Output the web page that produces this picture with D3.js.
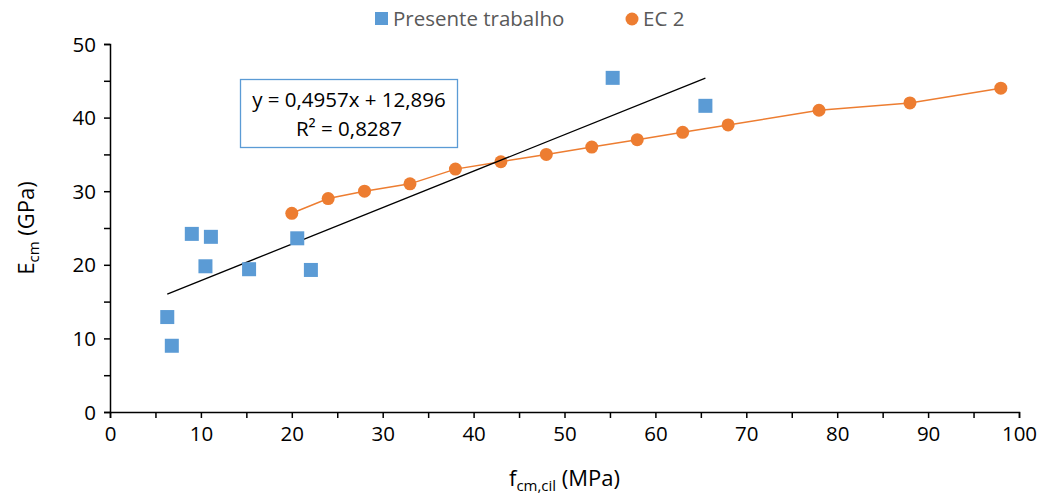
<!DOCTYPE html>
<html>
<head>
<meta charset="utf-8">
<script src="https://cdn.jsdelivr.net/npm/d3@7"></script>
<style>
  body { margin: 0; background: #fff; }
  text { font-family: "Open Sans", sans-serif; }
</style>
</head>
<body>
<script>
// Presente trabalho (ensaios)
const presX = [6.3, 6.8, 9.0, 11.1, 10.5, 15.3, 20.6, 22.1, 55.3, 65.5];
const presY = [12.9, 9.0, 24.2, 23.8, 19.8, 19.4, 23.6, 19.3, 45.4, 41.6];
// EC 2
const ecX = [20, 24, 28, 33, 38, 43, 48, 53, 58, 63, 68, 78, 88, 98];
const ecY = [27, 29, 30, 31, 33, 34, 35, 36, 37, 38, 39, 41, 42, 44];
// linha de tendência (coeficientes do gráfico)
const slope = 0.4957, intercept = 12.896;
const eqLines = ["y = 0,4957x + 12,896", "R² = 0,8287"];
const xTicks = [0, 10, 20, 30, 40, 50, 60, 70, 80, 90, 100];
const yTicks = [0, 10, 20, 30, 40, 50];

const W = 1042, H = 495;
const margin = { left: 110, right: 23, top: 44, bottom: 83 };
const fontSize = "20.5px";

const svg = d3.select("body").append("svg").attr("width", W).attr("height", H);

const x = d3.scaleLinear().domain([0, 100]).range([margin.left, W - margin.right]);
const y = d3.scaleLinear().domain([0, 50]).range([H - margin.bottom, margin.top]);

const blue = "#5b9bd5", orange = "#ed7d31";

// axes
const xAxis = svg.append("g").attr("transform", `translate(0,${y(0)})`)
  .call(d3.axisBottom(x).tickValues(d3.range(0, 101, 5)).tickSize(6)
    .tickFormat(d => xTicks.includes(d) ? d : ""));
const yAxis = svg.append("g").attr("transform", `translate(${x(0)},0)`)
  .call(d3.axisLeft(y).tickValues(d3.range(0, 51, 5)).tickSize(6)
    .tickFormat(d => yTicks.includes(d) ? d : ""));
[xAxis, yAxis].forEach(g => {
  g.select(".domain").attr("stroke", "#000").attr("stroke-width", 1.5);
  g.selectAll(".tick line").attr("stroke", "#000").attr("stroke-width", 1.5);
  g.selectAll(".tick text").attr("fill", "#000").style("font-size", fontSize)
    .style("font-family", "'Open Sans', sans-serif");
});
xAxis.selectAll(".tick text").attr("y", 14).attr("dy", "0.71em");
yAxis.selectAll(".tick text").attr("x", -14).attr("dy", "0.35em");

// EC 2 line + points
const ecPts = ecX.map((d, i) => [d, ecY[i]]);
svg.append("path").datum(ecPts)
  .attr("fill", "none").attr("stroke", orange).attr("stroke-width", 1.5)
  .attr("d", d3.line().x(d => x(d[0])).y(d => y(d[1])));
svg.append("g").selectAll("circle").data(ecPts).join("circle")
  .attr("cx", d => x(d[0])).attr("cy", d => y(d[1])).attr("r", 6.5).attr("fill", orange);

// trendline
const xMin = d3.min(presX), xMax = d3.max(presX);
svg.append("line")
  .attr("x1", x(xMin)).attr("y1", y(slope * xMin + intercept))
  .attr("x2", x(xMax)).attr("y2", y(slope * xMax + intercept))
  .attr("stroke", "#000").attr("stroke-width", 1.3);

// presente trabalho squares
svg.append("g").selectAll("rect").data(presX.map((d, i) => [d, presY[i]])).join("rect")
  .attr("x", d => x(d[0]) - 7).attr("y", d => y(d[1]) - 7)
  .attr("width", 14).attr("height", 14).attr("fill", blue);

// equation box
svg.append("rect").attr("x", 240.5).attr("y", 79.5).attr("width", 217).attr("height", 68)
  .attr("fill", "#fff").attr("stroke", blue).attr("stroke-width", 1.3);
const eq = svg.append("text").attr("text-anchor", "middle").attr("fill", "#000").style("font-size", fontSize);
eq.append("tspan").attr("x", 349).attr("y", 107).text(eqLines[0]);
eq.append("tspan").attr("x", 349).attr("y", 136).text(eqLines[1]);

// legend
const leg = svg.append("g").style("font-size", fontSize);
leg.append("rect").attr("x", 375).attr("y", 12).attr("width", 13).attr("height", 13).attr("fill", blue);
leg.append("text").attr("x", 393).attr("y", 26).attr("fill", "#595959").text("Presente trabalho");
leg.append("circle").attr("cx", 632).attr("cy", 19).attr("r", 6.5).attr("fill", orange);
leg.append("text").attr("x", 643).attr("y", 26).attr("fill", "#595959").text("EC 2");

// axis titles
const xt = svg.append("text").attr("x", x(50)).attr("y", 486).attr("text-anchor", "middle")
  .attr("fill", "#000").style("font-size", "22px");
xt.append("tspan").text("f");
xt.append("tspan").attr("dy", 5).style("font-size", "15px").text("cm,cil");
xt.append("tspan").attr("dy", -5).text(" (MPa)");

const yt = svg.append("text").attr("transform", `translate(34,${y(25)}) rotate(-90)`)
  .attr("text-anchor", "middle").attr("fill", "#000").style("font-size", "22px");
yt.append("tspan").text("E");
yt.append("tspan").attr("dy", 5).style("font-size", "15px").text("cm");
yt.append("tspan").attr("dy", -5).text(" (GPa)");
</script>
</body>
</html>
